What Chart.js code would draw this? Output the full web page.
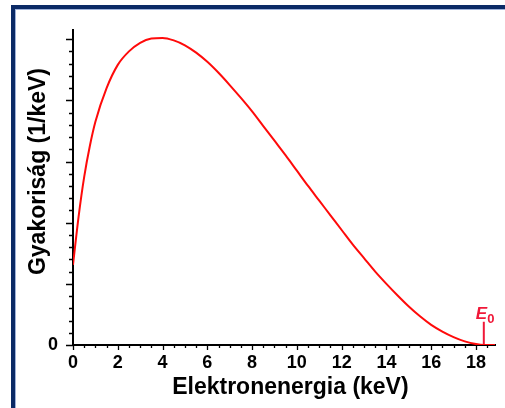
<!DOCTYPE html>
<html>
<head>
<meta charset="utf-8">
<script src="https://cdn.jsdelivr.net/npm/chart.js@4.4.1/dist/chart.umd.min.js"></script>
<style>
  html, body { margin: 0; padding: 0; background: #fff; }
  body { width: 505px; height: 408px; position: relative; overflow: hidden; }
  .frame {
    position: absolute; left: 11px; top: 5px; width: 600px; height: 500px;
    border: 4px solid #0b2a66; box-shadow: inset 1px 1px 0 #9fb2da;
  }
  #wrap { position: absolute; left: 0; top: 0; width: 505px; height: 408px; }
</style>
</head>
<body>
<div class="frame"></div>
<div id="wrap"><canvas id="spectrum"></canvas></div>
<script>
// electron energy (keV) and frequency (1/keV)
const energies = [0, 0.25, 0.5, 0.75, 1, 1.5, 2, 2.5, 3, 3.5, 4, 4.5, 5, 5.5, 6, 6.5, 7, 7.5, 8, 8.5, 9,
  9.5, 10, 10.5, 11, 11.5, 12, 12.5, 13, 13.5, 14, 14.5, 15, 15.5, 16, 16.5, 17, 17.5, 18, 18.35, 18.85];
const counts = [1.31, 2.1, 2.75, 3.25, 3.65, 4.2, 4.58, 4.8, 4.94, 5.01, 5.02, 4.98, 4.9, 4.78, 4.63, 4.45, 4.25,
  4.04, 3.82, 3.58, 3.34, 3.1, 2.85, 2.6, 2.36, 2.12, 1.88, 1.64, 1.42, 1.2, 1.0, 0.81, 0.63, 0.47, 0.33,
  0.22, 0.13, 0.06, 0.015, 0, 0];

const endpointEnergy = 18.35;
const endpointMark = [0, 0.38];

const xTickValues = [0, 2, 4, 6, 8, 10, 12, 14, 16, 18];
const xTickLabels = ['0', '2', '4', '6', '8', '10', '12', '14', '16', '18'];
const yTickValues = [0];
const yTickLabels = ['0'];

const red = '#ff0a0a';
const markRed = '#f01838';
const fontFamily = '"Liberation Sans", Arial, sans-serif';

// small outward tick marks: majors on labels, minors between
const axisTicks = {
  id: 'axisTicks',
  afterDraw(chart) {
    const { ctx, scales: { x, y } } = chart;
    ctx.save();
    ctx.strokeStyle = '#000';
    ctx.lineWidth = 1.3;
    ctx.beginPath();
    for (let i = 0; i <= 37; i++) {
      const px = Math.round(x.getPixelForValue(i * 0.5)) + 0.5;
      const len = i % 4 === 0 ? 5 : 3;
      ctx.moveTo(px, y.bottom);
      ctx.lineTo(px, y.bottom + len);
    }
    for (let i = 0; i <= 25; i++) {
      const py = Math.round(y.getPixelForValue(i * 0.2)) + 0.5;
      const len = i % 5 === 0 ? 7 : 4;
      ctx.moveTo(x.left, py);
      ctx.lineTo(x.left - len, py);
    }
    ctx.stroke();
    ctx.restore();
  }
};

const endpointLabel = {
  id: 'endpointLabel',
  afterDatasetsDraw(chart) {
    const { ctx, scales: { x, y } } = chart;
    const px = x.getPixelForValue(endpointEnergy);
    const py = y.getPixelForValue(endpointMark[1]) - 3;
    ctx.save();
    ctx.fillStyle = markRed;
    ctx.textBaseline = 'alphabetic';
    ctx.font = `italic bold 17px ${fontFamily}`;
    ctx.fillText('E', px - 8, py);
    const w = ctx.measureText('E').width;
    ctx.font = `bold 13px ${fontFamily}`;
    ctx.fillText('0', px - 8 + w, py + 4);
    ctx.restore();
  }
};

new Chart(document.getElementById('spectrum'), {
  type: 'line',
  data: {
    datasets: [
      {
        data: energies.map((e, i) => ({ x: e, y: counts[i] })),
        borderColor: red,
        borderWidth: 2,
        pointRadius: 0,
        fill: false,
        cubicInterpolationMode: 'monotone'
      },
      {
        data: endpointMark.map(v => ({ x: endpointEnergy, y: v })),
        borderColor: markRed,
        borderWidth: 2,
        pointRadius: 0,
        fill: false
      }
    ]
  },
  options: {
    responsive: true,
    maintainAspectRatio: false,
    animation: false,
    layout: { padding: { top: 30, right: 10, left: 0, bottom: 0 } },
    plugins: { legend: { display: false }, tooltip: { enabled: false } },
    scales: {
      x: {
        type: 'linear',
        min: 0,
        max: 18.85,
        afterBuildTicks: s => { s.ticks = xTickValues.map(v => ({ value: v })); },
        afterFit: s => { s.height = 63; },
        ticks: {
          callback: (v, i) => xTickLabels[i],
          font: { family: fontFamily, size: 18, weight: 'bold' },
          color: '#000',
          padding: 7,
          maxRotation: 0,
          autoSkip: false
        },
        grid: { display: false, drawTicks: false },
        border: { display: true, color: '#000', width: 2 },
        title: {
          display: true,
          text: '\u00a0\u00a0Elektronenergia (keV)',
          color: '#000',
          font: { family: fontFamily, size: 23, weight: 'bold' },
          padding: { top: 0, bottom: 7 }
        }
      },
      y: {
        type: 'linear',
        min: 0,
        max: 5.15,
        afterBuildTicks: s => { s.ticks = yTickValues.map(v => ({ value: v })); },
        afterFit: s => { s.width = 73; },
        ticks: {
          callback: (v, i) => yTickLabels[i],
          font: { family: fontFamily, size: 18, weight: 'bold' },
          color: '#000',
          padding: 15,
          autoSkip: false
        },
        grid: { display: false, drawTicks: false },
        border: { display: true, color: '#000', width: 2 },
        title: {
          display: true,
          text: '\u00a0\u00a0\u00a0\u00a0\u00a0Gyakoriság (1/keV)',
          color: '#000',
          font: { family: fontFamily, size: 23, weight: 'bold' },
          padding: { top: 25, bottom: 0 }
        }
      }
    }
  },
  plugins: [axisTicks, endpointLabel]
});
</script>
</body>
</html>
